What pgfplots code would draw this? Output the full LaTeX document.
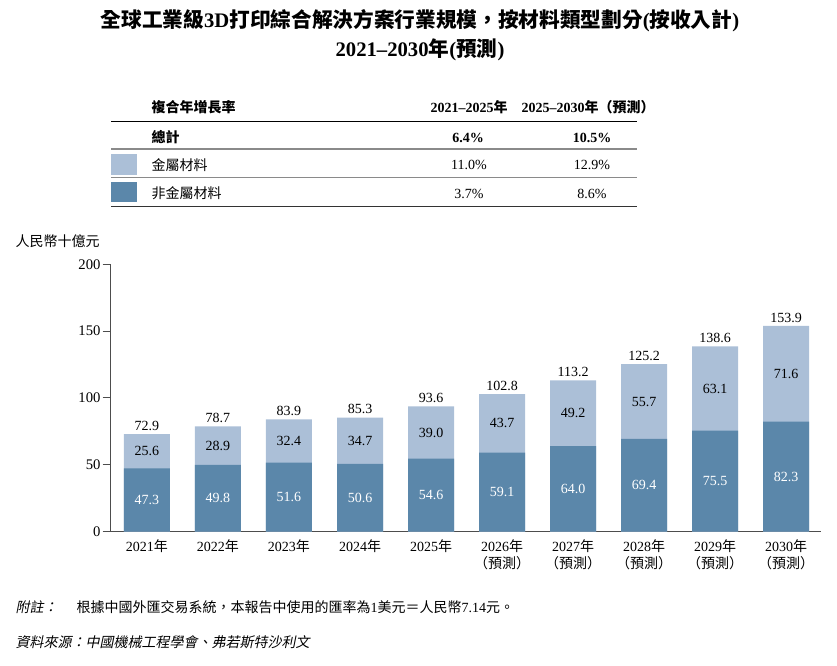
\documentclass[border=0pt]{standalone}
\usepackage{fontspec}
\usepackage{pgfplots}
\usepackage{pgfplotstable}
\pgfplotsset{compat=1.18}
\setmainfont{Liberation Serif}
\newfontfamily\cjk{Noto Sans CJK TC}
\newfontfamily\cjkit[FakeSlant=0.2]{Noto Sans CJK TC}

\definecolor{metal}{HTML}{ABBFD7}
\definecolor{nonmetal}{HTML}{5B87AA}
\definecolor{axisgray}{HTML}{4D4D4D}
\definecolor{rulegray}{HTML}{8A8A8A}

% Market size by material type, RMB billion
\pgfplotstableread{
x nonmetal metal total
0 47.3 25.6 72.9
1 49.8 28.9 78.7
2 51.6 32.4 83.9
3 50.6 34.7 85.3
4 54.6 39.0 93.6
5 59.1 43.7 102.8
6 64.0 49.2 113.2
7 69.4 55.7 125.2
8 75.5 63.1 138.6
9 82.3 71.6 153.9
}\sizedata

\newcommand\body{\fontsize{10.5}{12.75}\selectfont}
\newcommand\titlefont{\fontsize{15.5}{17}\selectfont\bfseries}
\newcommand\valuelabel{\pgfmathprintnumber[fixed,fixed zerofill,precision=1,assume math mode=true]{\pgfplotspointmeta}}

\begin{document}
\begin{tikzpicture}
\useasboundingbox (0,0) rectangle (627.75pt,-499.5pt);

\begin{scope}[x=0.75pt,y=-0.75pt]
  % title
  \node[font=\titlefont] at (420,21)
    {{\cjk 全球工業級}3D{\cjk 打印綜合解決方案行業規模，按材料類型劃分}({\cjk 按收入計})};
  \node[font=\titlefont] at (420,50)
    {2021–2030{\cjk 年}({\cjk 預測})};

  % growth-rate table
  \node[anchor=west, font=\body\bfseries] at (147,107) {\cjk 複合年增長率};
  \node[font=\body\bfseries] at (469,107) {2021–2025{\cjk 年}};
  \node[font=\body\bfseries] at (588,107) {2025–2030{\cjk 年（預測）}};
  \draw[black, line width=0.7pt] (111,121) -- (637,121);

  \node[anchor=west, font=\body\bfseries] at (147,137.5) {\cjk 總計};
  \node[font=\body\bfseries] at (468,137.5) {6.4\%};
  \node[font=\body\bfseries] at (592,137.5) {10.5\%};
  \draw[rulegray, line width=1.1pt] (111,149) -- (637,149);

  \fill[metal] (111,154.5) rectangle (136.5,175);
  \node[anchor=west, font=\body] at (147,165) {\cjk 金屬材料};
  \node[font=\body] at (469,165) {11.0\%};
  \node[font=\body] at (592,165) {12.9\%};
  \draw[rulegray, line width=1.1pt] (111,177.5) -- (637,177.5);

  \fill[nonmetal] (111,182.5) rectangle (136.5,202.5);
  \node[anchor=west, font=\body] at (147,193.5) {\cjk 非金屬材料};
  \node[font=\body] at (469,193.5) {3.7\%};
  \node[font=\body] at (592,193.5) {8.6\%};
  \draw[black!80, line width=1.1pt] (111,206.5) -- (637,206.5);

  % unit label
  \node[anchor=west, font=\body] at (11,241) {\cjk 人民幣十億元};

  % notes
  \node[anchor=west, font=\body] at (11,607) {\cjkit 附註：};
  \node[anchor=west, font=\body] at (72,607)
    {{\cjk 根據中國外匯交易系統，本報告中使用的匯率為}1{\cjk 美元＝人民幣}7.14{\cjk 元。}};
  \node[anchor=west, font=\body] at (11,642) {\cjkit 資料來源：中國機械工程學會、弗若斯特沙利文};
\end{scope}

\begin{axis}[
  at={(83.03pt,-398.63pt)}, anchor=south west,
  scale only axis, width=532.7pt, height=200.4pt,
  xmin=-0.51, xmax=9.49, ymin=0, ymax=200,
  axis lines=left,
  axis line style={-, axisgray, line width=1pt},
  xtick={0,...,9},
  xticklabels={
    {2021{\cjk 年}}, {2022{\cjk 年}}, {2023{\cjk 年}}, {2024{\cjk 年}}, {2025{\cjk 年}},
    {2026{\cjk 年}\\{\cjk （預測）}}, {2027{\cjk 年}\\{\cjk （預測）}},
    {2028{\cjk 年}\\{\cjk （預測）}}, {2029{\cjk 年}\\{\cjk （預測）}},
    {2030{\cjk 年}\\{\cjk （預測）}}},
  xtick style={draw=none},
  xticklabel style={align=center, font=\body, text=black, yshift=3.5pt},
  ytick={0,50,100,150,200},
  ytick style={axisgray, line width=0.8pt},
  yticklabel style={font=\fontsize{11}{13}\selectfont, inner sep=1.5pt},
  tick align=outside, major tick length=6pt,
  /pgf/number format/assume math mode=true,
  clip=false,
]
  % full bar up to the total, then the non-metal part over it
  \addplot[ybar, bar width=34.5pt, bar shift=0pt, fill=metal, draw=none,
    point meta=explicit, nodes near coords=\valuelabel,
    nodes near coords style={anchor=south, inner sep=2.5pt, font=\body, text=black}]
    table[x=x, y=total, meta=total] {\sizedata};
  \addplot[ybar, bar width=34.5pt, bar shift=0pt, fill=nonmetal, draw=none]
    table[x=x, y=nonmetal] {\sizedata};

  % segment values, centred in each segment
  \addplot[draw=none, mark=none, point meta=explicit, nodes near coords=\valuelabel,
    nodes near coords style={anchor=center, font=\body, text=white}]
    table[x=x, y expr=\thisrow{nonmetal}/2, meta=nonmetal] {\sizedata};
  \addplot[draw=none, mark=none, point meta=explicit, nodes near coords=\valuelabel,
    nodes near coords style={anchor=center, font=\body, text=black}]
    table[x=x, y expr=\thisrow{nonmetal}+\thisrow{metal}/2, meta=metal] {\sizedata};
\end{axis}
\end{tikzpicture}
\end{document}
